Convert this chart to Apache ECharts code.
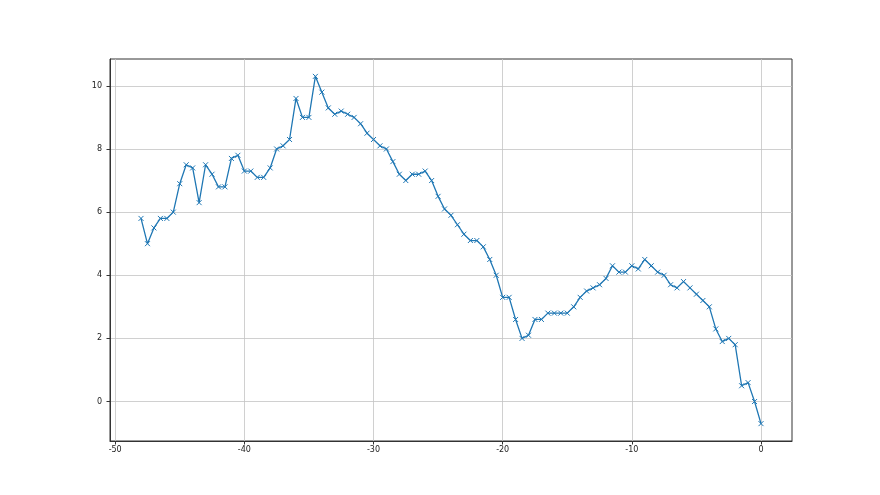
<!DOCTYPE html>
<html>
<head>
<meta charset="utf-8">
<script src="https://cdn.jsdelivr.net/npm/echarts@6/dist/echarts.min.js"></script>
<style>html,body{margin:0;padding:0;background:#fff;}#c{width:880px;height:495px;}</style>
</head>
<body>
<div id="c"></div>
<script>
const xStart = -48;
const xStep = 0.5;
const yValues = [
  5.8, 5.0, 5.5, 5.8, 5.8, 6.0, 6.9, 7.5, 7.4, 6.3,
  7.5, 7.2, 6.8, 6.8, 7.7, 7.8, 7.3, 7.3, 7.1, 7.1,
  7.4, 8.0, 8.1, 8.3, 9.6, 9.0, 9.0, 10.3, 9.8, 9.3,
  9.1, 9.2, 9.1, 9.0, 8.8, 8.5, 8.3, 8.1, 8.0, 7.6,
  7.2, 7.0, 7.2, 7.2, 7.3, 7.0, 6.5, 6.1, 5.9, 5.6,
  5.3, 5.1, 5.1, 4.9, 4.5, 4.0, 3.3, 3.3, 2.6, 2.0,
  2.1, 2.6, 2.6, 2.8, 2.8, 2.8, 2.8, 3.0, 3.3, 3.5,
  3.6, 3.7, 3.9, 4.3, 4.1, 4.1, 4.3, 4.2, 4.5, 4.3,
  4.1, 4.0, 3.7, 3.6, 3.8, 3.6, 3.4, 3.2, 3.0, 2.3,
  1.9, 2.0, 1.8, 0.5, 0.6, 0.0, -0.7
];
const xTicks = [-50, -40, -30, -20, -10, 0];
const yTicks = [0, 2, 4, 6, 8, 10];

const data = yValues.map((v, i) => [xStart + i * xStep, v]);

const chart = echarts.init(document.getElementById('c'), null, {renderer: 'canvas'});
const axisCommon = {
  axisLine: {show: true, onZero: false, lineStyle: {color: '#333', width: 1}},
  axisTick: {show: true, inside: false, length: 3.5, lineStyle: {color: '#333', width: 1}},
  axisLabel: {color: '#222', fontSize: 8, fontFamily: 'DejaVu Sans'},
  splitLine: {show: true, lineStyle: {color: '#c4c4c4', width: 0.8}}
};
chart.setOption({
  animation: false,
  grid: {left: 110, right: 88, top: 59, bottom: 54, show: true, borderColor: '#333', borderWidth: 1, backgroundColor: 'transparent'},
  xAxis: Object.assign({}, axisCommon, {
    type: 'value', min: -50.4, max: 2.4,
    axisTick: Object.assign({}, axisCommon.axisTick, {customValues: xTicks}),
    axisLabel: Object.assign({}, axisCommon.axisLabel, {customValues: xTicks, margin: 5}),
  }),
  yAxis: Object.assign({}, axisCommon, {
    type: 'value', min: -1.25, max: 10.85,
    axisTick: Object.assign({}, axisCommon.axisTick, {customValues: yTicks}),
    axisLabel: Object.assign({}, axisCommon.axisLabel, {customValues: yTicks, margin: 8}),
  }),
  series: [{
    type: 'line',
    data: data,
    symbol: 'path://M0,0L10,10M10,0L0,10',
    symbolSize: 5,
    showAllSymbol: true,
    lineStyle: {color: '#1f77b4', width: 1.3},
    itemStyle: {color: 'rgba(0,0,0,0)', borderColor: '#1f77b4', borderWidth: 1}
  }]
});
</script>
</body>
</html>
